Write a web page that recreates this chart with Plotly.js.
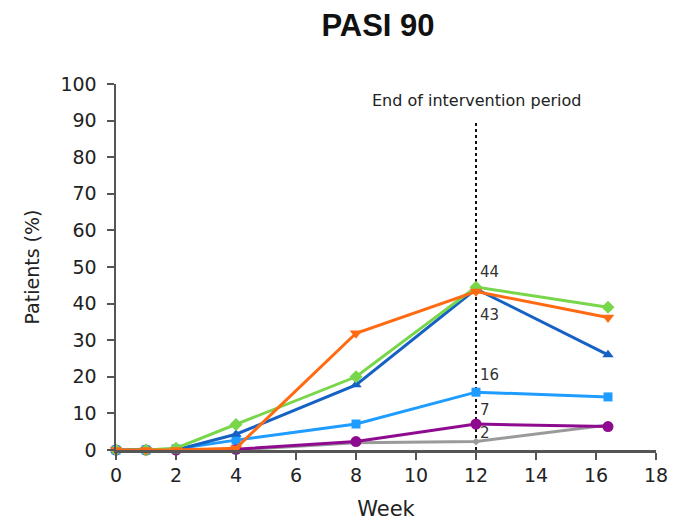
<!DOCTYPE html>
<html>
<head>
<meta charset="utf-8">
<script src="https://cdn.plot.ly/plotly-3.0.1.min.js"></script>
<style>html,body{margin:0;padding:0;background:#fff;}#chart{width:675px;height:521px;}</style>
</head>
<body>
<div id="chart"></div>
<script>
const weeks = [0, 1, 2, 4, 8, 12, 16.4];
const seriesGreen = [0, 0, 0.5, 7, 20, 44.5, 39];
const seriesBlue = [0, 0, 0, 4.3, 17.8, 44, 26];
const seriesOrange = [0, 0, 0, 0.5, 31.9, 43.3, 36.2];
const seriesLightBlue = [0, 0, 0.3, 2.7, 7.1, 15.8, 14.5];
const seriesPurple = [0, 0, 0, 0.2, 2.3, 7.1, 6.4];
const seriesGray = [0, 0, 0, 0, 2, 2.3, 6.8];
const endWeek = 12;
const endLineTop = 90;
const week12Labels = ["44", "43", "16", "7", "2"];
const week12LabelY = [48.5, 37, 20.5, 11, 4.6];
const xTicks = [0, 2, 4, 6, 8, 10, 12, 14, 16, 18];
const yTicks = [0, 10, 20, 30, 40, 50, 60, 70, 80, 90, 100];

const F = "DejaVu Sans, Arial, sans-serif";
function tr(y, color, symbol, size) {
  return {x: weeks, y: y, type: 'scatter', mode: 'lines+markers',
    line: {color: color, width: 3}, marker: {color: color, symbol: symbol, size: size},
    cliponaxis: false, showlegend: false, hoverinfo: 'skip'};
}
const data = [
  tr(seriesGray, '#9a9a9a', 'diamond', 6),
  tr(seriesPurple, '#8e0b8f', 'circle', 11),
  tr(seriesLightBlue, '#1e9cff', 'square', 9),
  tr(seriesBlue, '#1662c4', 'triangle-up', 10),
  tr(seriesGreen, '#78d64b', 'diamond', 10),
  tr(seriesOrange, '#ff6a12', 'triangle-down', 11)
];
const annotations = week12Labels.map((t, i) => ({
  x: endWeek, y: week12LabelY[i], xref: 'x', yref: 'y', text: t, showarrow: false,
  xanchor: 'left', xshift: 2, font: {family: F, size: 15, color: '#333'}
}));
annotations.push({x: endWeek, y: 95.5, xref: 'x', yref: 'y', text: 'End of intervention period',
  showarrow: false, xanchor: 'center', font: {family: F, size: 16, color: '#222'}});
const layout = {
  width: 675, height: 521,
  margin: {l: 116, r: 19, t: 84, b: 71},
  paper_bgcolor: '#fff', plot_bgcolor: '#fff',
  title: {text: '<b>PASI 90</b>', x: 0.56, xanchor: 'center', y: 0.952, yanchor: 'middle',
    font: {family: 'Liberation Sans, Arial, sans-serif', size: 31, color: '#111'}},
  xaxis: {range: [0, 18], tickvals: xTicks, ticks: 'outside', ticklen: 7, tickwidth: 2, tickcolor: '#555',
    showline: true, linecolor: '#555', linewidth: 2.5, showgrid: false, zeroline: false,
    tickfont: {family: F, size: 19, color: '#222'},
    title: {text: 'Week', font: {family: F, size: 21, color: '#222'}, standoff: 23}},
  yaxis: {range: [0, 100], tickvals: yTicks, ticks: 'outside', ticklen: 7, tickwidth: 2, tickcolor: '#555',
    showline: true, linecolor: '#555', linewidth: 2.5, showgrid: false, zeroline: false,
    tickfont: {family: F, size: 19, color: '#222'}, ticklabelstandoff: 6,
    title: {text: 'Patients (%)', font: {family: F, size: 19, color: '#222'}, standoff: 16}},
  shapes: [{type: 'line', xref: 'x', yref: 'y', x0: endWeek, x1: endWeek, y0: 0, y1: endLineTop,
    line: {color: '#111', width: 2, dash: 'dot'}, layer: 'below'}],
  annotations: annotations
};
Plotly.newPlot('chart', data, layout, {displayModeBar: false, staticPlot: true});
</script>
</body>
</html>
